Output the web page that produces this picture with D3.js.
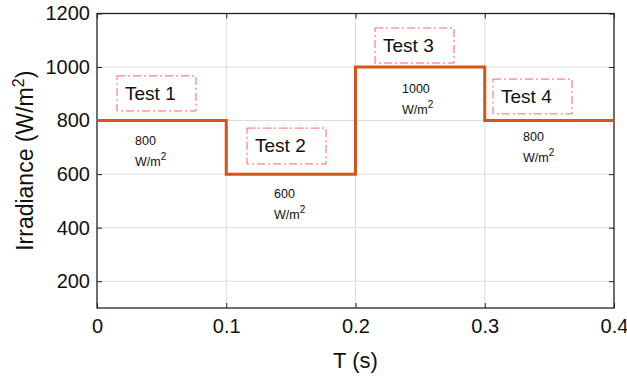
<!DOCTYPE html>
<html>
<head>
<meta charset="utf-8">
<script src="https://cdn.jsdelivr.net/npm/d3@7"></script>
<style>
  html, body { margin: 0; padding: 0; background: #fff; }
  svg { display: block; font-family: "Liberation Sans", Arial, Helvetica, sans-serif; }
</style>
</head>
<body>
<svg id="chart" width="627" height="377"></svg>
<script>
// ---- data ----
const stepTimes = [0, 0.1, 0.2, 0.3, 0.4];
const stepValues = [800, 600, 1000, 800, 800];
const xTicks = [0, 0.1, 0.2, 0.3, 0.4];
const yTicks = [200, 400, 600, 800, 1000, 1200];
const testLabels = ["Test 1", "Test 2", "Test 3", "Test 4"];
const valueLabels = ["800", "600", "1000", "800"];

// ---- layout ----
const W = 627, H = 377;
const m = { left: 97, right: 13, top: 13.5, bottom: 69 };
const iw = W - m.left - m.right, ih = H - m.top - m.bottom;

const svg = d3.select("#chart");
const g = svg.append("g").attr("transform", `translate(${m.left},${m.top})`);

const x = d3.scaleLinear().domain([0, 0.4]).range([0, iw]);
const y = d3.scaleLinear().domain([100, 1200]).range([ih, 0]);

// grid
g.append("g").selectAll("line").data(xTicks.slice(1, -1)).join("line")
  .attr("x1", d => x(d)).attr("x2", d => x(d)).attr("y1", 0).attr("y2", ih)
  .attr("stroke", "#dcdcdc").attr("stroke-width", 1);
g.append("g").selectAll("line").data(yTicks.slice(0, -1)).join("line")
  .attr("y1", d => y(d)).attr("y2", d => y(d)).attr("x1", 0).attr("x2", iw)
  .attr("stroke", "#dcdcdc").attr("stroke-width", 1);

// axes (inward ticks)
const tickStyle = sel => {
  sel.select(".domain").remove();
  sel.selectAll(".tick line").attr("stroke", "#222").attr("stroke-width", 1);
};
const fontAttr = s => s.selectAll("text").attr("font-size", 20).attr("fill", "#111")
  .attr("font-family", "Liberation Sans, Arial, sans-serif");
g.append("g").attr("transform", `translate(0,${ih})`)
  .call(d3.axisBottom(x).tickValues(xTicks).tickFormat(d3.format("")).tickSizeInner(-5).tickSizeOuter(0).tickPadding(11))
  .call(tickStyle).call(fontAttr);
g.append("g")
  .call(d3.axisTop(x).tickValues(xTicks).tickFormat("").tickSizeInner(-5).tickSizeOuter(0))
  .call(tickStyle);
g.append("g")
  .call(d3.axisLeft(y).tickValues(yTicks).tickFormat(d3.format("d")).tickSizeInner(-5).tickSizeOuter(0).tickPadding(7))
  .call(tickStyle).call(fontAttr);
g.append("g").attr("transform", `translate(${iw},0)`)
  .call(d3.axisRight(y).tickValues(yTicks).tickFormat("").tickSizeInner(-5).tickSizeOuter(0))
  .call(tickStyle);

// frame
g.append("rect").attr("x", 0).attr("y", 0).attr("width", iw).attr("height", ih)
  .attr("fill", "none").attr("stroke", "#222").attr("stroke-width", 1.3);

// step line
const line = d3.line().x((d, i) => x(stepTimes[i])).y(d => y(d)).curve(d3.curveStepAfter);
g.append("path").datum(stepValues)
  .attr("d", line).attr("fill", "none").attr("stroke", "#D95319").attr("stroke-width", 3);

// annotations (layout, in data units)
const boxes = [
  { x0: 0.0155, x1: 0.0766, y0: 836, y1: 967 },
  { x0: 0.1161, x1: 0.1772, y0: 638, y1: 772 },
  { x0: 0.2151, x1: 0.2762, y0: 1015, y1: 1146 },
  { x0: 0.3064, x1: 0.3675, y0: 825, y1: 955 },
];
const valuePos = [
  { px: 135, py: 145 },
  { px: 274, py: 198 },
  { px: 402, py: 93 },
  { px: 523, py: 141 },
];
boxes.forEach((b, i) => {
  g.append("rect")
    .attr("x", x(b.x0)).attr("y", y(b.y1))
    .attr("width", x(b.x1) - x(b.x0)).attr("height", y(b.y0) - y(b.y1))
    .attr("fill", "none").attr("stroke", "#ff3b3b").attr("stroke-opacity", 0.8).attr("stroke-width", 1)
    .attr("stroke-dasharray", "8,3,2,3");
  g.append("text")
    .attr("x", x(b.x0) + 8).attr("y", y(b.y1) + 24)
    .attr("font-size", 19).attr("fill", "#111").text(testLabels[i]);
  const vp = valuePos[i];
  svg.append("text").attr("x", vp.px).attr("y", vp.py)
    .attr("font-size", 12.5).attr("fill", "#111").text(valueLabels[i]);
  const t = svg.append("text").attr("x", vp.px).attr("y", vp.py + 21)
    .attr("font-size", 12.5).attr("fill", "#111");
  t.append("tspan").text("W/m");
  t.append("tspan").attr("dy", -6).attr("font-size", 10).text("2");
});

// axis titles
svg.append("text").attr("x", m.left + iw / 2).attr("y", 368)
  .attr("text-anchor", "middle").attr("font-size", 22).attr("fill", "#111").text("T (s)");
const yl = svg.append("text")
  .attr("transform", `translate(33,${m.top + ih / 2}) rotate(-90)`)
  .attr("text-anchor", "middle").attr("font-size", 23).attr("fill", "#111");
yl.append("tspan").text("Irradiance (W/m");
yl.append("tspan").attr("dy", -9).attr("font-size", 16).text("2");
yl.append("tspan").attr("dy", 9).text(")");
</script>
</body>
</html>
